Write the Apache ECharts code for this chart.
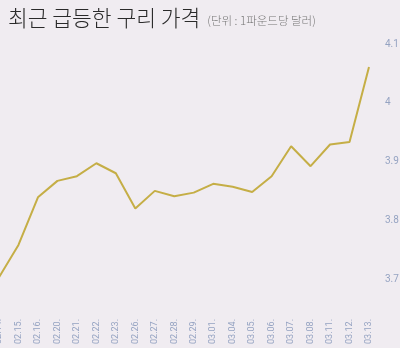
<!DOCTYPE html>
<html><head><meta charset="utf-8">
<script src="https://cdn.jsdelivr.net/npm/echarts@6/dist/echarts.min.js"></script>
<style>html,body{margin:0;padding:0;background:#f0ecf1;}#c{width:400px;height:348px;}</style>
</head><body><div id="c"></div>
<script>
const categories = ['02.14.','02.15.','02.16.','02.20.','02.21.','02.22.','02.23.','02.26.','02.27.','02.28.','02.29.','03.01.','03.04.','03.05.','03.06.','03.07.','03.08.','03.11.','03.12.','03.13.'];
const prices = [3.703,3.758,3.839,3.867,3.875,3.897,3.880,3.820,3.850,3.841,3.847,3.862,3.857,3.848,3.875,3.926,3.892,3.929,3.933,4.061];
const yTicks = [3.7,3.8,3.9,4.0,4.1];

const chart = echarts.init(document.getElementById('c'));
chart.setOption({
  backgroundColor: '#f0ecf1',
  animation: false,
  title: {
    left: 3, top: 2,
    text: '{a|최근 급등한 구리 가격}{b|(단위 : 1파운드당 달러)}',
    textStyle: {
      rich: {
        a: {fontSize: 21.5, color: '#2a2a2a', fontFamily: 'Noto Sans CJK KR', fontWeight: 300},
        b: {fontSize: 11.5, color: '#777', fontFamily: 'Noto Sans CJK KR', fontWeight: 300, padding: [6,0,0,7]}
      }
    }
  },
  grid: {left: -1, right: 31, top: 44, bottom: 69, containLabel: false, outerBoundsMode: 'none'},
  xAxis: {
    type: 'category', data: categories, boundaryGap: false,
    axisLine: {show: false}, axisTick: {show: false},
    axisLabel: {rotate: 90, margin: 40, fontSize: 9, color: '#95a3c2', fontFamily: 'Roboto', interval: 0}
  },
  yAxis: {
    type: 'value', position: 'right', min: 3.7, max: 4.1, interval: 0.1,
    splitLine: {show: false}, axisLine: {show: false}, axisTick: {show: false},
    axisLabel: {margin: 16, fontSize: 10, color: '#95a3c2', fontFamily: 'Roboto',
      formatter: v => { const r = Math.round(v*10)/10; return yTicks.includes(r) ? String(r) : ''; }}
  },
  series: [{
    type: 'line', data: prices, symbol: 'none',
    lineStyle: {color: '#c5ae46', width: 2}
  }]
});
</script></body></html>
